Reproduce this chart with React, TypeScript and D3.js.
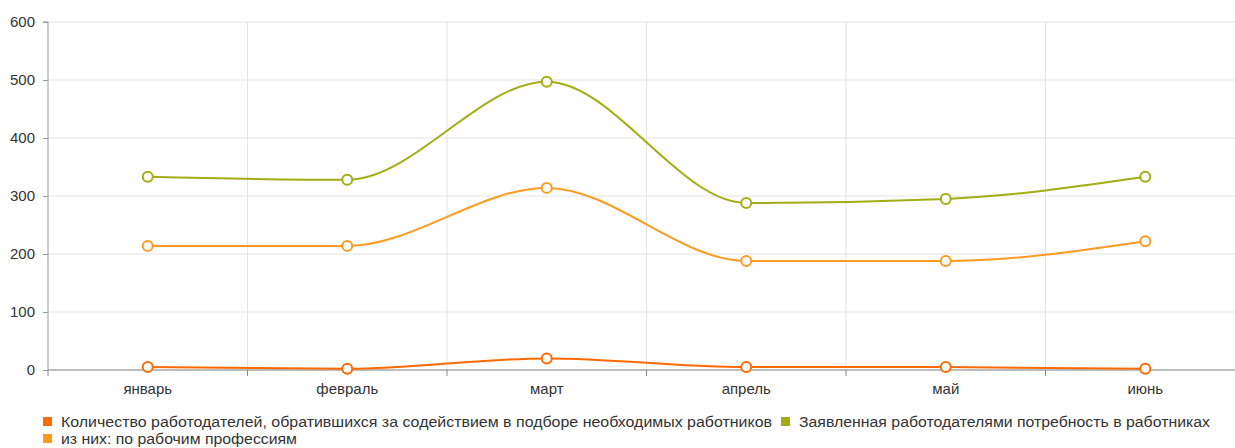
import React, { useEffect, useRef } from 'react';
import * as d3 from 'd3';

// Months on the category axis
const months = ['январь', 'февраль', 'март', 'апрель', 'май', 'июнь'];

// Series values
const employers = [5, 2, 20, 5, 5, 2];
const demand = [333, 328, 497, 288, 295, 333];
const workerJobs = [214, 214, 314, 188, 188, 222];

const yTicks = [0, 100, 200, 300, 400, 500, 600];

const seriesNames = [
  'Количество работодателей, обратившихся за содействием в подборе необходимых работников',
  'Заявленная работодателями потребность в работниках',
  'из них: по рабочим профессиям',
];

const colors = ['#ff6a00', '#a3ad13', '#ff9a1f'];

const App: React.FC = () => {
  const svgRef = useRef<SVGSVGElement>(null);

  useEffect(() => {
    if (!svgRef.current) return;
    const svg = d3.select(svgRef.current);
    svg.selectAll('*').remove();

    const font = "'Liberation Sans', Arial, sans-serif";
    const left = 48;
    const right = 1245;
    const top = 22;
    const bottom = 370;

    const x = d3.scaleBand<string>().domain(months).range([left, right]);
    const y = d3.scaleLinear().domain([0, 600]).range([bottom, top]);
    const cx = (m: string) => (x(m) || 0) + x.bandwidth() / 2;

    // Horizontal grid
    svg.append('g')
      .selectAll('line')
      .data(yTicks)
      .enter()
      .append('line')
      .attr('x1', left)
      .attr('x2', right)
      .attr('y1', d => y(d))
      .attr('y2', d => y(d))
      .attr('stroke', '#e3e3e3')
      .attr('stroke-width', 1);

    // Vertical grid at band boundaries
    const bounds = months.map(m => x(m) || 0).concat([right]);
    svg.append('g')
      .selectAll('line')
      .data(bounds.slice(1))
      .enter()
      .append('line')
      .attr('x1', d => d)
      .attr('x2', d => d)
      .attr('y1', top)
      .attr('y2', bottom)
      .attr('stroke', '#e3e3e3');

    // Left axis
    const yAxis = svg.append('g')
      .attr('transform', `translate(${left},0)`)
      .call(d3.axisLeft(y).tickValues(yTicks).tickSize(5).tickPadding(8));
    yAxis.select('.domain').attr('stroke', '#999').attr('d', `M-5,${top}H0V${bottom}`);
    yAxis.selectAll('line').attr('stroke', '#999');
    yAxis.selectAll('text')
      .attr('font-family', font)
      .attr('font-size', '15px')
      .attr('fill', '#333');

    // Bottom axis
    const xAxis = svg.append('g')
      .attr('transform', `translate(0,${bottom})`)
      .call(d3.axisBottom(x).tickSize(0).tickPadding(13));
    xAxis.select('.domain').attr('stroke', '#888').attr('d', `M${left},0H${right}`);
    xAxis.selectAll('text')
      .attr('font-family', font)
      .attr('font-size', '15px')
      .attr('fill', '#333');
    xAxis.selectAll('.bt')
      .data(bounds)
      .enter()
      .append('line')
      .attr('class', 'bt')
      .attr('x1', d => d)
      .attr('x2', d => d)
      .attr('y1', 0)
      .attr('y2', 6)
      .attr('stroke', '#888');

    // Lines
    const allSeries = [employers, demand, workerJobs];
    const line = d3.line<number>()
      .x((_, i) => cx(months[i]))
      .y(d => y(d))
      .curve(d3.curveMonotoneX);

    allSeries.forEach((vals, si) => {
      svg.append('path')
        .datum(vals)
        .attr('fill', 'none')
        .attr('stroke', colors[si])
        .attr('stroke-width', 2)
        .attr('d', line);
    });

    allSeries.forEach((vals, si) => {
      svg.append('g')
        .selectAll('circle')
        .data(vals)
        .enter()
        .append('circle')
        .attr('cx', (_, i) => cx(months[i]))
        .attr('cy', d => y(d))
        .attr('r', 5)
        .attr('fill', '#fff')
        .attr('stroke', colors[si])
        .attr('stroke-width', 2);
    });

    // Legend
    const legendItems = [
      { x: 43, y: 417, w: 711, name: seriesNames[0], color: colors[0] },
      { x: 781, y: 417, w: 411, name: seriesNames[1], color: colors[1] },
      { x: 43, y: 434, w: 236, name: seriesNames[2], color: colors[2] },
    ];
    const legend = svg.append('g');
    legendItems.forEach(it => {
      legend.append('rect')
        .attr('x', it.x)
        .attr('y', it.y)
        .attr('width', 9)
        .attr('height', 9)
        .attr('fill', it.color);
      legend.append('text')
        .attr('x', it.x + 18)
        .attr('y', it.y + 10)
        .attr('font-family', font)
        .attr('font-size', '14px')
        .attr('fill', '#333')
        .attr('textLength', it.w)
        .attr('lengthAdjust', 'spacingAndGlyphs')
        .text(it.name);
    });
  }, []);

  return (
    <svg
      ref={svgRef}
      width={1235}
      height={448}
      style={{ position: 'absolute', left: 0, top: 0, background: '#fff' }}
    />
  );
};

export default App;
